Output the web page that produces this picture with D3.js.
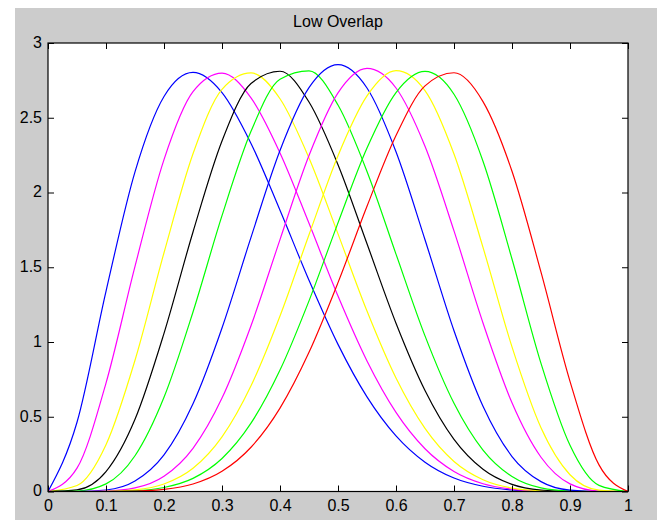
<!DOCTYPE html>
<html>
<head>
<meta charset="utf-8">
<script src="https://cdn.jsdelivr.net/npm/d3@7"></script>
<style>
  body { margin: 0; background: #fff; }
  svg { display: block; font-family: "Liberation Sans", Arial, sans-serif; }
</style>
</head>
<body>
<div id="chart"></div>
<script>
// Sample positions shared by all curves
const xGrid = [0, 0.05, 0.1, 0.15, 0.2, 0.25, 0.3, 0.35, 0.4, 0.45, 0.5,
  0.55, 0.6, 0.65, 0.7, 0.75, 0.8, 0.85, 0.9, 0.95, 1];

// Density values, one array per curve (left peak to right peak)
const blue1 = [0, 0.463, 1.339, 2.138, 2.642, 2.803, 2.668, 2.328, 1.881, 1.413, 0.984,
  0.633, 0.372, 0.196, 0.090, 0.035, 0.010, 0.002, 0, 0, 0];
const magenta1 = [0, 0.156, 0.725, 1.506, 2.220, 2.674, 2.798, 2.633, 2.265, 1.794, 1.307,
  0.873, 0.529, 0.286, 0.134, 0.052, 0.016, 0.003, 0, 0, 0];
const yellow1 = [0, 0.040, 0.313, 0.878, 1.597, 2.259, 2.690, 2.800, 2.627, 2.231, 1.723,
  1.207, 0.759, 0.422, 0.201, 0.079, 0.023, 0.005, 0, 0, 0];
const black1 = [0, 0.011, 0.133, 0.483, 1.058, 1.736, 2.344, 2.729, 2.811, 2.605, 2.186,
  1.657, 1.126, 0.676, 0.349, 0.149, 0.048, 0.010, 0.001, 0, 0];
const green1 = [0, 0.003, 0.051, 0.239, 0.630, 1.201, 1.845, 2.409, 2.758, 2.814, 2.585,
  2.141, 1.588, 1.041, 0.590, 0.277, 0.100, 0.024, 0.003, 0, 0];
const blue2 = [0, 0, 0.010, 0.070, 0.245, 0.587, 1.094, 1.700, 2.281, 2.701, 2.855,
  2.699, 2.272, 1.684, 1.075, 0.570, 0.234, 0.066, 0.009, 0, 0];
const magenta2 = [0, 0, 0.003, 0.024, 0.102, 0.289, 0.625, 1.109, 1.685, 2.247, 2.666,
  2.830, 2.699, 2.309, 1.743, 1.127, 0.593, 0.229, 0.051, 0.003, 0];
const yellow2 = [0, 0, 0.001, 0.011, 0.050, 0.155, 0.365, 0.707, 1.174, 1.717, 2.246,
  2.646, 2.815, 2.682, 2.257, 1.633, 0.967, 0.426, 0.112, 0.009, 0];
const green2 = [0, 0, 0, 0.005, 0.027, 0.088, 0.221, 0.457, 0.812, 1.275, 1.797,
  2.297, 2.668, 2.810, 2.657, 2.209, 1.555, 0.857, 0.309, 0.041, 0];
const red1 = [0, 0, 0, 0.003, 0.014, 0.050, 0.135, 0.296, 0.558, 0.931, 1.397,
  1.908, 2.381, 2.713, 2.801, 2.608, 2.142, 1.467, 0.737, 0.178, 0];

const curveColors = ["#0000ff", "#ff00ff", "#ffff00", "#000000", "#00ff00",
  "#0000ff", "#ff00ff", "#ffff00", "#00ff00", "#ff0000"];
const xTicks = [0, 0.1, 0.2, 0.3, 0.4, 0.5, 0.6, 0.7, 0.8, 0.9, 1];
const yTicks = [0, 0.5, 1, 1.5, 2, 2.5, 3];
const title = "Low Overlap";

const series = [blue1, magenta1, yellow1, black1, green1, blue2, magenta2, yellow2, green2, red1];

const width = 657;
const height = 520;
const margin = { top: 43, right: 29, bottom: 28.5, left: 48 };

const svg = d3.select("#chart").append("svg")
  .attr("width", width)
  .attr("height", height);

// Grey figure background
svg.append("rect")
  .attr("x", 15).attr("y", 8)
  .attr("width", width - 15).attr("height", height - 8)
  .attr("fill", "#cccccc");

const x = d3.scaleLinear().domain([0, 1]).range([margin.left, width - margin.right]);
const y = d3.scaleLinear().domain([0, 3]).range([height - margin.bottom, margin.top]);

// White plot area
svg.append("rect")
  .attr("x", x(0)).attr("y", y(3))
  .attr("width", x(1) - x(0)).attr("height", y(0) - y(3))
  .attr("fill", "#fff");

svg.append("clipPath").attr("id", "plot-clip")
  .append("rect")
  .attr("x", x(0)).attr("y", y(3))
  .attr("width", x(1) - x(0)).attr("height", y(0) - y(3));

// Curves
const line = d3.line()
  .x((d, i) => x(xGrid[i]))
  .y((d) => y(d))
  .curve(d3.curveMonotoneX);

svg.append("g")
  .attr("clip-path", "url(#plot-clip)")
  .attr("fill", "none")
  .selectAll("path")
  .data(series)
  .join("path")
  .attr("stroke", (d, i) => curveColors[i])
  .attr("stroke-width", 1.2)
  .attr("d", line);

// Axes with inward ticks on all four sides
const fmt = (d) => d3.format("")(d);

const gx = svg.append("g")
  .attr("transform", `translate(0,${y(0)})`)
  .call(d3.axisBottom(x).tickValues(xTicks).tickFormat(fmt).tickSize(-6).tickPadding(8));
const gxTop = svg.append("g")
  .attr("transform", `translate(0,${y(3)})`)
  .call(d3.axisTop(x).tickValues(xTicks).tickFormat("").tickSize(-6));
const gy = svg.append("g")
  .attr("transform", `translate(${x(0)},0)`)
  .call(d3.axisLeft(y).tickValues(yTicks).tickFormat(fmt).tickSize(-6).tickPadding(6));
const gyRight = svg.append("g")
  .attr("transform", `translate(${x(1)},0)`)
  .call(d3.axisRight(y).tickValues(yTicks).tickFormat("").tickSize(-6));

[gx, gxTop, gy, gyRight].forEach((g) => {
  g.select(".domain").remove();
  g.selectAll("line").attr("stroke", "#000");
  g.selectAll("text").attr("fill", "#000").attr("font-size", 16).attr("font-family", null);
});
gy.selectAll("text").attr("dy", "0.28em");

// Axes box
svg.append("rect")
  .attr("x", x(0)).attr("y", y(3))
  .attr("width", x(1) - x(0)).attr("height", y(0) - y(3))
  .attr("fill", "none")
  .attr("stroke", "#000")
  .attr("stroke-width", 1.2);

// Title
svg.append("text")
  .attr("x", (x(0) + x(1)) / 2)
  .attr("y", 27)
  .attr("text-anchor", "middle")
  .attr("font-size", 16)
  .attr("fill", "#000")
  .text(title);
</script>
</body>
</html>
